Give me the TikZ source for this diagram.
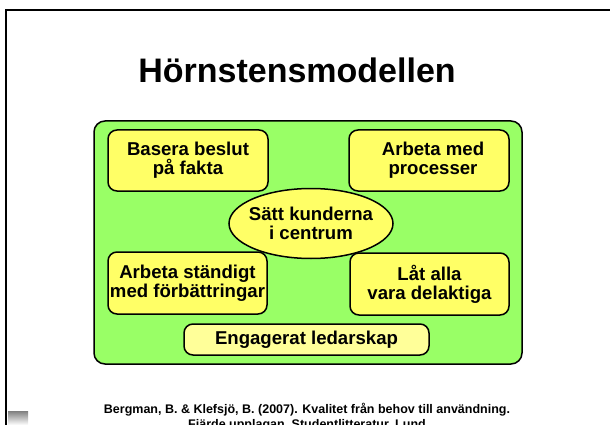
\documentclass[tikz,border=0pt]{standalone}
\usepackage{fontspec}
\setmainfont{Liberation Sans}
\usetikzlibrary{shapes.geometric}
\definecolor{grn}{RGB}{153,255,102}
\definecolor{ylw}{RGB}{255,255,102}
\definecolor{lylw}{RGB}{255,255,153}
\definecolor{shade}{RGB}{240,240,240}
\begin{document}
\begin{tikzpicture}[x=1pt,y=-1pt,
  boxtxt/.style={font=\fontsize{18.6}{19.3}\selectfont\bfseries,align=center},
  ybox/.style={boxtxt,draw=black,line width=1.5pt,rounded corners=9pt,fill=ylw,inner sep=0pt},
  panel/.style={draw=black,line width=1.5pt,rounded corners=11pt,fill=grn,inner sep=0pt},
  reftxt/.style={font=\fontsize{12.5}{15}\selectfont\bfseries,anchor=base},
]
\useasboundingbox (0,0) rectangle (610,425);
\fill[shade] (8,411) rectangle (28,425);
\draw[line width=2.5pt] (6,432) |- (615,10);
\node[font=\fontsize{34}{36}\selectfont\bfseries,anchor=base] (title) at (297,83) {Hörnstensmodellen};
\node[panel,minimum width=428pt,minimum height=243pt] (frame) at (308,242.5) {};
\node[ybox,minimum width=160pt,minimum height=61pt] (fakta) at (188,160.5) {Basera beslut\\på fakta};
\node[ybox,minimum width=160pt,minimum height=61pt] (proc) at (429,160.5) {\hspace*{8pt}Arbeta med\\\hspace*{8pt}processer};
\node[ybox,minimum width=159pt,minimum height=62pt] (forb) at (187.5,283) {Arbeta ständigt\\med förbättringar};
\node[ybox,minimum width=159pt,minimum height=62pt] (delak) at (429.5,284) {Låt alla\\vara delaktiga};
\node[ybox,ellipse,minimum width=164pt,minimum height=70pt] (kund) at (311,223.5) {};
\node[boxtxt,inner sep=0pt] (kundtxt) at (kund.center) {Sätt kunderna\\i centrum};
\node[ybox,fill=lylw,minimum width=245pt,minimum height=31pt] (leda) at (306.5,339.5) {Engagerat ledarskap};
\node[reftxt] (ref1) at (307,413) {Bergman, B. \& Klefsjö, B. (2007). Kvalitet från behov till användning.};
\node[reftxt] (ref2) at (307,428) {Fjärde upplagan, Studentlitteratur, Lund};
\end{tikzpicture}
\end{document}
